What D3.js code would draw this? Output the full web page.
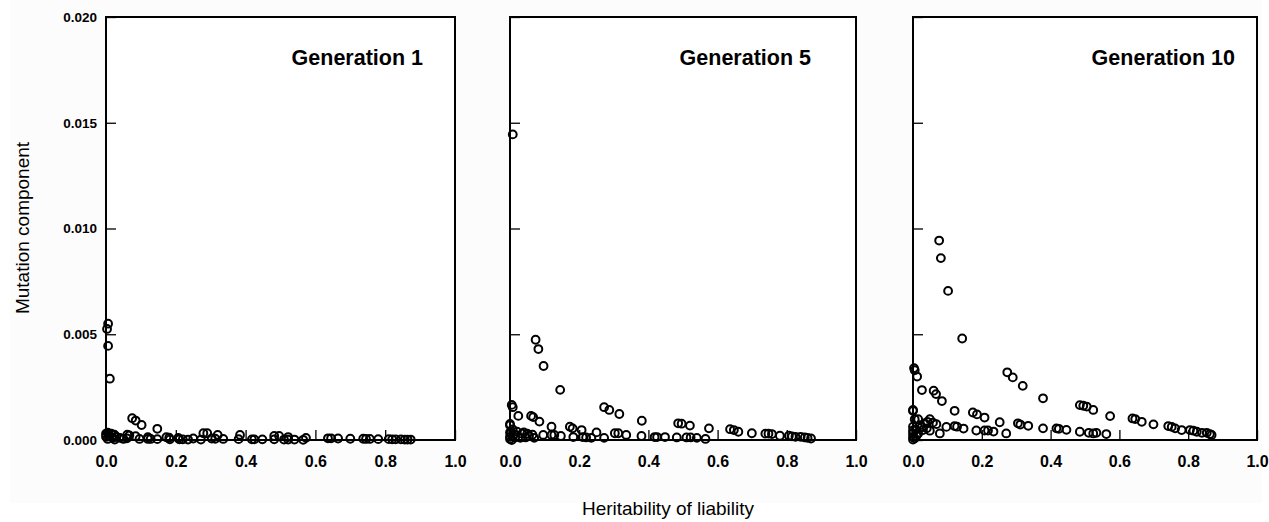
<!DOCTYPE html>
<html>
<head>
<meta charset="utf-8">
<script src="https://cdn.jsdelivr.net/npm/d3@7"></script>
<style>
  body { margin: 0; background: #fff; }
  svg { display: block; }
  text { font-family: Arial, "Liberation Sans", Helvetica, sans-serif; fill: #000; }
</style>
</head>
<body>
<svg id="chart" width="1269" height="522"></svg>
<script>
// Panel titles
const generations = ["Generation 1", "Generation 5", "Generation 10"];

// Axis ticks
const xTicks = [0, 0.2, 0.4, 0.6, 0.8, 1.0];
const yTicks = [0, 0.005, 0.010, 0.015, 0.020];

// Generation 1: heritability of liability / mutation component
const gen1H = [0.006, 0.003, 0.006, 0.011, 0.075, 0.085, 0.102, 0.147, 0.279, 0.290, 0.320, 0.384,
  0.482, 0.496, 0.522, 0.573, 0.636, 0.645, 0.665, 0.700, 0.737, 0.745, 0.756, 0.780, 0.810, 0.820,
  0.830, 0.845, 0.856, 0.864, 0.873,
  0.005, 0.008, 0.024, 0.061, 0.067, 0.085, 0.120, 0.173, 0.181, 0.207, 0.250, 0.303, 0.313, 0.336,
  0.380, 0.418, 0.425, 0.448, 0.482, 0.510, 0.522, 0.540, 0.565,
  0.096, 0.120, 0.128, 0.147, 0.183, 0.210, 0.220, 0.235, 0.272,
  0.000, 0.000, 0.005, 0.010, 0.020, 0.030, 0.040, 0.050, 0.060, 0.015, 0.025];
const gen1M = [0.00550, 0.00525, 0.00445, 0.00290, 0.00103, 0.00092, 0.00071, 0.00053, 0.00032, 0.00032, 0.00024, 0.00024,
  0.00019, 0.00019, 0.00014, 0.00010, 0.00008, 0.00008, 0.00007, 0.00006, 0.00006, 0.00005, 0.00005, 0.00004, 0.00004, 0.00003,
  0.00003, 0.00003, 0.00002, 0.00002, 0.00002,
  0.00035, 0.00030, 0.00025, 0.00025, 0.00022, 0.00018, 0.00013, 0.00013, 0.00011, 0.00010, 0.00007, 0.00007, 0.00006, 0.00005,
  0.00004, 0.00003, 0.00003, 0.00003, 0.00003, 0.00002, 0.00002, 0.00002, 0.00001,
  0.00005, 0.00005, 0.00005, 0.00004, 0.00003, 0.00003, 0.00003, 0.00002, 0.00002,
  0.00030, 0.00015, 0.00005, 0.00020, 0.00010, 0.00015, 0.00010, 0.00005, 0.00008, 0.00030, 0.00002];

// Generation 5
const gen5H = [0.008, 0.074, 0.082, 0.097, 0.145, 0.272, 0.287, 0.316, 0.381, 0.486, 0.496, 0.520, 0.575,
  0.636, 0.647, 0.660, 0.699, 0.738, 0.747, 0.757, 0.780, 0.806, 0.815, 0.825, 0.840, 0.852, 0.860, 0.870,
  0.005, 0.008, 0.024, 0.061, 0.067, 0.085, 0.120, 0.173, 0.181, 0.207, 0.250, 0.303, 0.313, 0.336,
  0.380, 0.418, 0.425, 0.448, 0.482, 0.510, 0.522, 0.540, 0.565,
  0.096, 0.120, 0.128, 0.147, 0.183, 0.210, 0.220, 0.235, 0.272,
  0.000, 0.000, 0.000, 0.002, 0.000, 0.000, 0.005, 0.012, 0.020, 0.035, 0.040, 0.050, 0.055, 0.065,
  0.070, 0.030, 0.015, 0.045, 0.008];
const gen5M = [0.01445, 0.00474, 0.00430, 0.00350, 0.00237, 0.00155, 0.00142, 0.00123, 0.00091, 0.00079, 0.00077, 0.00068, 0.00055,
  0.00051, 0.00047, 0.00039, 0.00032, 0.00030, 0.00030, 0.00028, 0.00020, 0.00020, 0.00017, 0.00015, 0.00015, 0.00012, 0.00010, 0.00007,
  0.00166, 0.00155, 0.00114, 0.00114, 0.00108, 0.00087, 0.00063, 0.00063, 0.00055, 0.00047, 0.00036, 0.00032, 0.00032, 0.00024,
  0.00019, 0.00014, 0.00014, 0.00014, 0.00012, 0.00012, 0.00012, 0.00010, 0.00005,
  0.00024, 0.00024, 0.00024, 0.00019, 0.00014, 0.00014, 0.00012, 0.00010, 0.00010,
  0.00076, 0.00070, 0.00036, 0.00034, 0.00015, 0.00005, 0.00000, 0.00028, 0.00040, 0.00030, 0.00036, 0.00030, 0.00020, 0.00025,
  0.00010, 0.00010, 0.00012, 0.00012, 0.00050];

// Generation 10
const gen10H = [0.076, 0.081, 0.102, 0.143, 0.274, 0.290, 0.319, 0.378, 0.485, 0.495, 0.505, 0.524, 0.573,
  0.638, 0.646, 0.665, 0.699, 0.742, 0.752, 0.762, 0.781, 0.805, 0.815, 0.825, 0.840, 0.854, 0.863, 0.868,
  0.003, 0.005, 0.012, 0.026, 0.060, 0.067, 0.084, 0.121, 0.174, 0.186, 0.208, 0.252, 0.305, 0.312,
  0.335, 0.378, 0.417, 0.424, 0.446, 0.485, 0.511, 0.524, 0.533, 0.562,
  0.097, 0.121, 0.128, 0.147, 0.184, 0.208, 0.218, 0.234, 0.271,
  0.000, 0.000, 0.005, 0.015, 0.049, 0.042, 0.058, 0.068, 0.034, 0.020, 0.029, 0.049, 0.078, 0.015,
  0.000, 0.000, 0.000, 0.000, 0.000, 0.005, 0.008, 0.010, 0.040, 0.025];
const gen10M = [0.00943, 0.00860, 0.00705, 0.00480, 0.00320, 0.00296, 0.00256, 0.00197, 0.00165, 0.00162, 0.00158, 0.00142, 0.00113,
  0.00102, 0.00099, 0.00086, 0.00074, 0.00066, 0.00062, 0.00055, 0.00047, 0.00047, 0.00044, 0.00039, 0.00034, 0.00034, 0.00028, 0.00024,
  0.00340, 0.00330, 0.00300, 0.00236, 0.00233, 0.00217, 0.00184, 0.00138, 0.00130, 0.00121, 0.00106, 0.00084, 0.00079, 0.00073,
  0.00067, 0.00055, 0.00055, 0.00053, 0.00048, 0.00039, 0.00034, 0.00031, 0.00034, 0.00028,
  0.00062, 0.00066, 0.00063, 0.00054, 0.00045, 0.00045, 0.00045, 0.00040, 0.00031,
  0.00142, 0.00138, 0.00098, 0.00098, 0.00098, 0.00086, 0.00082, 0.00075, 0.00079, 0.00070, 0.00047, 0.00044, 0.00031, 0.00031,
  0.00063, 0.00045, 0.00031, 0.00015, 0.00002, 0.00008, 0.00050, 0.00020, 0.00055, 0.00060];

const seriesH = [gen1H, gen5H, gen10H];
const seriesM = [gen1M, gen5M, gen10M];

// Layout of the three panels
const panelLeft = [106, 510, 913];
const panelRight = [455, 856, 1257];
const titleInset = [32, 45, 22];
const plotTop = 17, plotBottom = 440;

const svg = d3.select("#chart");

svg.append("rect")
  .attr("x", 10).attr("y", 0).attr("width", 1252).attr("height", 503)
  .attr("fill", "#fcfcfc");

const y = d3.scaleLinear().domain([0, 0.020]).range([plotBottom, plotTop]);

generations.forEach((title, i) => {
  const x = d3.scaleLinear().domain([0, 1]).range([panelLeft[i], panelRight[i]]);
  const g = svg.append("g");

  // frame
  g.append("rect")
    .attr("x", x(0)).attr("y", y(0.020))
    .attr("width", x(1) - x(0)).attr("height", y(0) - y(0.020))
    .attr("fill", "#fff").attr("stroke", "#000").attr("stroke-width", 2);

  // bottom axis with inward ticks
  const xAxis = g.append("g")
    .attr("transform", `translate(0,${plotBottom})`)
    .call(d3.axisBottom(x).tickValues(xTicks).tickFormat(d3.format(".1f"))
      .tickSizeInner(-10).tickSizeOuter(0).tickPadding(16));
  xAxis.select(".domain").remove();
  xAxis.selectAll("line").attr("stroke", "#000").attr("stroke-width", 1.3);
  xAxis.selectAll("text")
    .attr("font-size", 16).attr("font-weight", "bold")
    .attr("font-family", "Arial, 'Liberation Sans', sans-serif")
    .attr("fill", "#000");

  // left axis with inward ticks; labels only on the first panel
  const yAxis = g.append("g")
    .attr("transform", `translate(${x(0)},0)`)
    .call(d3.axisLeft(y).tickValues(yTicks).tickFormat(i === 0 ? d3.format(".3f") : () => "")
      .tickSizeInner(-10).tickSizeOuter(0).tickPadding(9));
  yAxis.select(".domain").remove();
  yAxis.selectAll("line").attr("stroke", "#000").attr("stroke-width", 1.3);
  yAxis.selectAll("text")
    .attr("font-size", 13.5).attr("font-weight", "bold")
    .attr("font-family", "Arial, 'Liberation Sans', sans-serif")
    .attr("fill", "#000");

  // data points
  const pts = seriesH[i].map((h, k) => ({ h, m: seriesM[i][k] }));
  g.append("g").selectAll("circle")
    .data(pts)
    .join("circle")
    .attr("cx", d => x(d.h))
    .attr("cy", d => y(d.m))
    .attr("r", 3.9)
    .attr("fill", "none")
    .attr("stroke", "#000")
    .attr("stroke-width", 2);

  // panel title
  g.append("text")
    .attr("x", x(1) - titleInset[i]).attr("y", 65)
    .attr("text-anchor", "end")
    .attr("font-size", 21.5).attr("font-weight", "bold")
    .text(title);
});

// axis titles
svg.append("text")
  .attr("transform", "translate(29,228) rotate(-90)")
  .attr("text-anchor", "middle")
  .attr("font-size", 19)
  .text("Mutation component");

svg.append("text")
  .attr("x", 668).attr("y", 515)
  .attr("text-anchor", "middle")
  .attr("font-size", 19)
  .text("Heritability of liability");
</script>
</body>
</html>
